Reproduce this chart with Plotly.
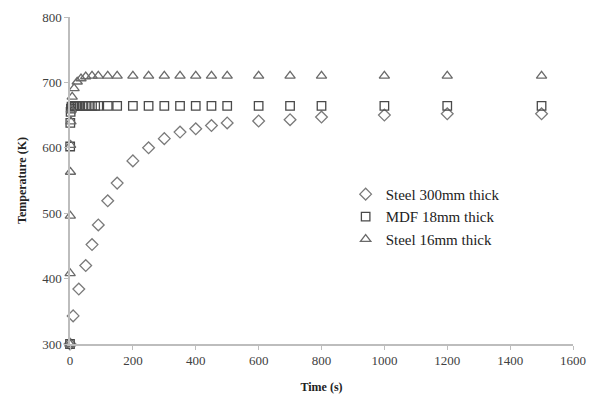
import plotly.graph_objects as go

# Steel 300mm thick (diamonds)
t_steel300 = [0, 10, 28, 50, 70, 90, 120, 150, 200, 250, 300, 350, 400, 450, 500, 600, 700, 800, 1000, 1200, 1500]
T_steel300 = [300, 343, 384, 420, 452, 482, 519, 546, 580, 600, 614, 624, 629, 634, 638, 641, 643, 647, 650, 652, 652]

# MDF 18mm thick (squares)
t_mdf = [0, 0.5, 1, 2, 3, 5, 10, 15, 20, 25, 30, 40, 50, 60, 70, 80, 90, 120, 150, 200, 250, 300, 350, 400, 450, 500, 600, 700, 800, 1000, 1200, 1500]
T_mdf = [300, 602, 638, 655, 660, 663, 664, 664, 664, 664, 664, 664, 664, 664, 664, 664, 664, 664, 664, 664, 664, 664, 664, 664, 664, 664, 664, 664, 664, 664, 664, 664]

# Steel 16mm thick (triangles)
t_steel16 = [0, 0.5, 1, 1.5, 2, 3, 4, 7, 13, 23, 35, 50, 70, 90, 120, 150, 200, 250, 300, 350, 400, 450, 500, 600, 700, 800, 1000, 1200, 1500]
T_steel16 = [300, 408, 496, 563, 604, 640, 658, 678, 691, 701, 706, 709, 710, 710, 710, 710, 710, 710, 710, 710, 710, 710, 710, 710, 710, 710, 710, 710, 710]

x_ticks = [0, 200, 400, 600, 800, 1000, 1200, 1400, 1600]
y_ticks = [300, 400, 500, 600, 700, 800]

serif = "Liberation Serif, Times New Roman, serif"

fig = go.Figure()
fig.add_trace(go.Scatter(
    x=t_steel300, y=T_steel300, mode="markers", name="Steel 300mm thick",
    marker=dict(symbol="diamond-open", size=9, color="#7a7a7a", line=dict(width=1.3, color="#7a7a7a")),
    cliponaxis=False))
fig.add_trace(go.Scatter(
    x=t_mdf, y=T_mdf, mode="markers", name="MDF 18mm thick",
    marker=dict(symbol="square-open", size=8.5, color="#4a4a4a", line=dict(width=1.3, color="#4a4a4a")),
    cliponaxis=False))
fig.add_trace(go.Scatter(
    x=t_steel16, y=T_steel16, mode="markers", name="Steel 16mm thick",
    marker=dict(symbol="triangle-up-open", size=9, color="#6a6a6a", line=dict(width=1.3, color="#6a6a6a")),
    cliponaxis=False))

fig.update_layout(
    width=590, height=386,
    margin=dict(l=62, r=25, t=9, b=50),
    paper_bgcolor="white", plot_bgcolor="white",
    font=dict(family=serif, color="#333333"),
    showlegend=True,
    legend=dict(x=0.548, y=0.508, xanchor="left", yanchor="top",
                bgcolor="rgba(0,0,0,0)", font=dict(size=15, family=serif, color="#222222"),
                itemwidth=30, tracegroupgap=0),
    xaxis=dict(range=[0, 1600], tickvals=x_ticks, showgrid=False, zeroline=False,
               showline=True, linecolor="#bdbdbd", linewidth=1.5, automargin=False,
               ticks="outside", ticklen=4, tickcolor="#bdbdbd",
               tickfont=dict(size=13, family=serif, color="#404040"),
               title=dict(text="<b>Time (s)</b>", font=dict(size=12, family=serif, color="#222222"), standoff=15)),
    yaxis=dict(range=[300, 800], tickvals=y_ticks, showgrid=False, zeroline=False,
               showline=True, linecolor="#bdbdbd", linewidth=1.5, automargin=False,
               ticks="outside", ticklen=4, tickcolor="#bdbdbd",
               tickfont=dict(size=13, family=serif, color="#404040"),
               title=dict(text="<b>Temperature (K)</b>", font=dict(size=12, family=serif, color="#222222"), standoff=13)),
)

fig.write_html("out.html")
